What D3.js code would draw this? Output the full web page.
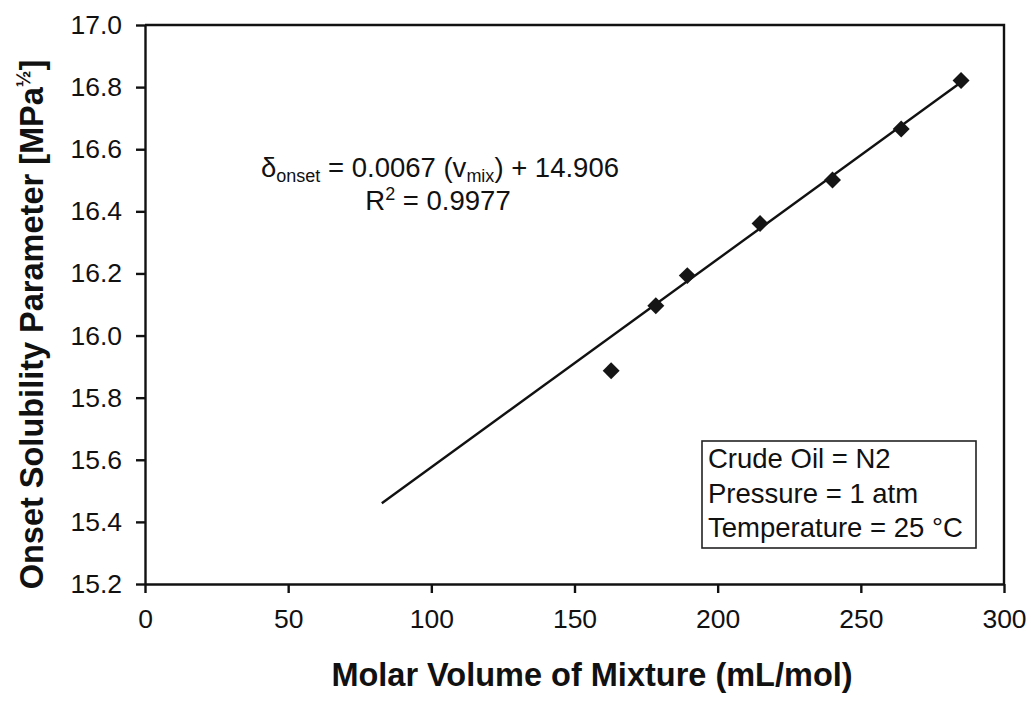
<!DOCTYPE html>
<html lang="en">
<head>
<meta charset="utf-8">
<title>Onset Solubility Parameter</title>
<script src="https://d3js.org/d3.v7.min.js"></script>
<style>
  body { margin: 0; background: #fff; }
  svg text { font-family: Arial, "Liberation Sans", Helvetica, sans-serif; fill: #111; }
  .axis path, .axis line { stroke: #111; stroke-width: 2.4px; }
  .axis text { font-size: 26.5px; }
</style>
</head>
<body>
<div id="chart"></div>
<script>
// measured points
var molarVolume = [162.8, 178.4, 189.4, 214.8, 240.1, 264.1, 285.0];
var onsetDelta  = [15.887, 16.096, 16.193, 16.361, 16.501, 16.665, 16.821];

// linear fit reported on the chart
var fitSlope = 0.0067, fitIntercept = 14.906, fitR2 = 0.9977;
var fitRange = [82.7, 285.0];

var xTicks = [0, 50, 100, 150, 200, 250, 300];
var yTicks = [15.2, 15.4, 15.6, 15.8, 16.0, 16.2, 16.4, 16.6, 16.8, 17.0];

var legendLines = ["Crude Oil = N2", "Pressure = 1 atm", "Temperature = 25 \u00B0C"];

var W = 1031, H = 702;
var margin = {top: 25, right: 27, bottom: 118, left: 145};
var width = W - margin.left - margin.right,
    height = H - margin.top - margin.bottom;

var svg = d3.select("#chart").append("svg")
    .attr("width", W).attr("height", H);
var g = svg.append("g")
    .attr("transform", "translate(" + margin.left + "," + margin.top + ")");

var x = d3.scaleLinear().domain([0, 300]).range([0, width]);
var y = d3.scaleLinear().domain([15.2, 17.0]).range([height, 0]);

// plot frame (top and right edges)
g.append("path")
  .attr("d", "M0,0H" + width + "V" + height)
  .attr("fill", "none").attr("stroke", "#111").attr("stroke-width", 2.4);

var xAxis = g.append("g").attr("class", "axis")
  .attr("transform", "translate(0," + height + ")")
  .call(d3.axisBottom(x).tickValues(xTicks).tickSize(9).tickSizeOuter(0).tickPadding(11));
xAxis.selectAll("text").attr("dy", "0.9em");

var yAxis = g.append("g").attr("class", "axis")
  .call(d3.axisLeft(y).tickValues(yTicks).tickSize(9).tickSizeOuter(0).tickPadding(14)
        .tickFormat(d3.format(".1f")));

// trendline
var fitLine = d3.line()
  .x(function(d) { return x(d); })
  .y(function(d) { return y(fitSlope * d + fitIntercept); });
g.append("path")
  .datum(fitRange)
  .attr("d", fitLine)
  .attr("fill", "none").attr("stroke", "#111").attr("stroke-width", 2.4);

// markers
var pts = molarVolume.map(function(v, i) { return {x: v, y: onsetDelta[i]}; });
g.selectAll(".pt").data(pts).enter().append("path")
  .attr("class", "pt")
  .attr("d", d3.symbol().type(d3.symbolSquare).size(144))
  .attr("transform", function(d) { return "translate(" + x(d.x) + "," + y(d.y) + ") rotate(45)"; })
  .attr("fill", "#151515");

// equation
var eq = svg.append("text").attr("x", 440).attr("y", 177)
  .attr("text-anchor", "middle").style("font-size", "27.5px");
eq.append("tspan").text("\u03B4");
eq.append("tspan").attr("dy", 5).style("font-size", "18px").text("onset");
eq.append("tspan").attr("dy", -5).text(" = " + fitSlope + " (v");
eq.append("tspan").attr("dy", 5).style("font-size", "18px").text("mix");
eq.append("tspan").attr("dy", -5).text(") + " + fitIntercept);

var r2 = svg.append("text").attr("x", 438).attr("y", 210)
  .attr("text-anchor", "middle").style("font-size", "27.5px");
r2.append("tspan").text("R");
r2.append("tspan").attr("dy", -10).style("font-size", "18px").text("2");
r2.append("tspan").attr("dy", 10).text(" = " + fitR2);

// conditions box
svg.append("rect")
  .attr("x", 702).attr("y", 441).attr("width", 274).attr("height", 107)
  .attr("fill", "#fff").attr("stroke", "#222").attr("stroke-width", 1.6);
svg.selectAll(".cond").data(legendLines).enter().append("text")
  .attr("class", "cond")
  .attr("x", 708)
  .attr("y", function(d, i) { return 468 + i * 34.5; })
  .style("font-size", "27.5px")
  .text(function(d) { return d; });

// axis titles
svg.append("text")
  .attr("x", 592).attr("y", 686)
  .attr("text-anchor", "middle")
  .style("font-size", "32.5px").style("font-weight", "bold")
  .text("Molar Volume of Mixture (mL/mol)");

var yt = svg.append("text")
  .attr("transform", "translate(43," + (margin.top + height / 2 + 20) + ") rotate(-90)")
  .attr("text-anchor", "middle")
  .style("font-size", "32.5px").style("font-weight", "bold");
yt.append("tspan").text("Onset Solubility Parameter [MPa");
yt.append("tspan").attr("dy", -13).style("font-size", "20px").text("\u00BD");
yt.append("tspan").attr("dy", 13).text("]");
</script>
</body>
</html>
